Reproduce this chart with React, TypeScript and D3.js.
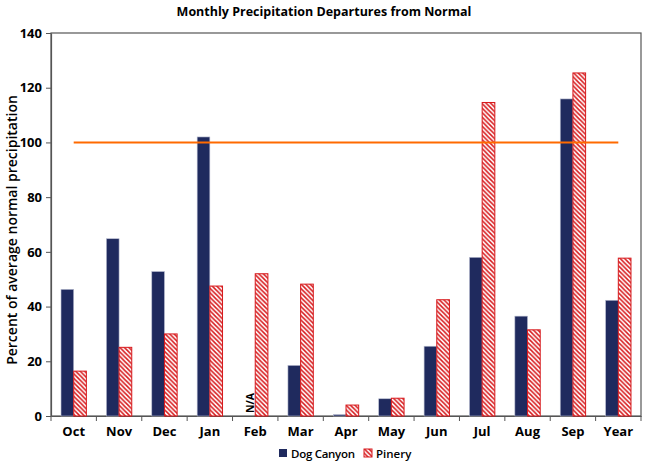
import React, { useEffect, useRef } from 'react';
import * as d3 from 'd3';

const months = ['Oct', 'Nov', 'Dec', 'Jan', 'Feb', 'Mar', 'Apr', 'May', 'Jun', 'Jul', 'Aug', 'Sep', 'Year'];
const dogCanyon: (number | null)[] = [46.3, 64.8, 52.8, 102, null, 18.5, 0.5, 6.3, 25.5, 58, 36.5, 115.9, 42.3];
const pinery = [16.4, 25.1, 30, 47.5, 52, 48.2, 4, 6.5, 42.5, 114.6, 31.5, 125.4, 57.7];
const normalLine = 100;
const yTicks = [0, 20, 40, 60, 80, 100, 120, 140];
const seriesNames = ['Dog Canyon', 'Pinery'];

const App: React.FC = () => {
  const svgRef = useRef<SVGSVGElement>(null);

  useEffect(() => {
    if (!svgRef.current) return;
    const svg = d3.select(svgRef.current);
    svg.selectAll('*').remove();

    const width = 650;
    const height = 462;
    const margin = { top: 33, right: 9, bottom: 46, left: 51 };
    const font = "'Open Sans', sans-serif";
    const navy = '#1f2a5e';
    const red = '#d7191c';

    const defs = svg.append('defs');
    const pat = defs
      .append('pattern')
      .attr('id', 'hatch')
      .attr('patternUnits', 'userSpaceOnUse')
      .attr('width', 4.5)
      .attr('height', 4.5);
    pat.append('rect').attr('width', 4.5).attr('height', 4.5).attr('fill', '#fff');
    pat
      .append('path')
      .attr('d', 'M-1,-1 L5.5,5.5 M-1,3.5 L1,5.5 M3.5,-1 L5.5,1')
      .attr('stroke', red)
      .attr('stroke-width', 1.5);

    const x = d3
      .scaleBand<string>()
      .domain(months)
      .range([margin.left, width - margin.right]);

    const inner = d3
      .scaleBand<string>()
      .domain(['dog', 'pinery'])
      .range([0, x.bandwidth()])
      .paddingInner(0)
      .paddingOuter(0.79);

    const y = d3
      .scaleLinear()
      .domain([0, 140])
      .range([height - margin.bottom, margin.top]);

    // plot frame
    svg
      .append('rect')
      .attr('x', margin.left)
      .attr('y', margin.top)
      .attr('width', width - margin.left - margin.right)
      .attr('height', height - margin.top - margin.bottom)
      .attr('fill', 'none')
      .attr('stroke', '#555')
      .attr('stroke-width', 1.2);

    // y axis
    const yAxis = svg
      .append('g')
      .attr('transform', `translate(${margin.left},0)`)
      .call(d3.axisLeft(y).tickValues(yTicks).tickSize(5).tickSizeOuter(0));
    yAxis.select('.domain').attr('stroke', '#555').attr('stroke-width', 1.2);
    yAxis.selectAll('.tick line').attr('stroke', '#555');
    yAxis
      .selectAll('.tick text')
      .attr('font-family', font)
      .attr('font-weight', 'bold')
      .attr('font-size', 13)
      .attr('fill', '#000')
      .attr('dx', -1);

    // x axis
    const xAxis = svg
      .append('g')
      .attr('transform', `translate(0,${height - margin.bottom})`)
      .call(d3.axisBottom(x).tickSize(0).tickSizeOuter(0));
    xAxis.select('.domain').attr('stroke', '#555').attr('stroke-width', 1.2);
    xAxis
      .selectAll('.tick text')
      .attr('font-family', font)
      .attr('font-weight', 'bold')
      .attr('font-size', 13)
      .attr('fill', '#000')
      .attr('dy', '1.3em');

    svg
      .append('g')
      .selectAll('line')
      .data(months.concat(['end']))
      .enter()
      .append('line')
      .attr('x1', (_d, i) => margin.left + i * x.step())
      .attr('x2', (_d, i) => margin.left + i * x.step())
      .attr('y1', height - margin.bottom)
      .attr('y2', height - margin.bottom + 5)
      .attr('stroke', '#555');

    // bars
    const groups = svg
      .append('g')
      .selectAll('g')
      .data(months)
      .enter()
      .append('g')
      .attr('transform', (d) => `translate(${x(d)},0)`);

    groups
      .filter((_d, i) => dogCanyon[i] !== null)
      .append('rect')
      .attr('x', inner('dog')!)
      .attr('width', inner.bandwidth())
      .attr('y', (d) => y(dogCanyon[months.indexOf(d)] as number))
      .attr('height', (d) => y(0) - y(dogCanyon[months.indexOf(d)] as number))
      .attr('fill', navy)
      .attr('stroke', '#b8bcd0')
      .attr('stroke-width', 0.6);

    groups
      .append('rect')
      .attr('x', inner('pinery')!)
      .attr('width', inner.bandwidth())
      .attr('y', (_d, i) => y(pinery[i]))
      .attr('height', (_d, i) => y(0) - y(pinery[i]))
      .attr('fill', 'url(#hatch)')
      .attr('stroke', red)
      .attr('stroke-width', 1);

    // N/A label
    groups
      .filter((_d, i) => dogCanyon[i] === null)
      .append('text')
      .attr(
        'transform',
        `translate(${inner('dog')! + inner.bandwidth() / 2 + 5},${y(0) - 3}) rotate(-90)`
      )
      .attr('font-family', font)
      .attr('font-weight', 'bold')
      .attr('font-size', 10.5)
      .text('N/A');

    // normal line
    svg
      .append('line')
      .attr('x1', x(months[0])! + x.bandwidth() / 2)
      .attr('x2', x(months[months.length - 1])! + x.bandwidth() / 2)
      .attr('y1', y(normalLine))
      .attr('y2', y(normalLine))
      .attr('stroke', '#ff6a00')
      .attr('stroke-width', 2);

    // title
    svg
      .append('text')
      .attr('x', 324)
      .attr('y', 16)
      .attr('text-anchor', 'middle')
      .attr('font-family', font)
      .attr('font-weight', 'bold')
      .attr('font-size', 12.5)
      .text('Monthly Precipitation Departures from Normal');

    // y label
    svg
      .append('text')
      .attr('transform', `translate(17,230) rotate(-90)`)
      .attr('text-anchor', 'middle')
      .attr('font-family', font)
      .attr('font-weight', 600)
      .attr('font-size', 14)
      .text('Percent of average normal precipitation');

    // legend
    const legend = svg.append('g').attr('transform', 'translate(279,449)');
    legend.append('rect').attr('width', 8).attr('height', 8).attr('fill', navy);
    legend
      .append('text')
      .attr('x', 12)
      .attr('y', 8.5)
      .attr('font-family', font)
      .attr('font-weight', 600)
      .attr('font-size', 11.5)
      .attr('textLength', 64)
      .text(seriesNames[0]);
    legend
      .append('rect')
      .attr('x', 85)
      .attr('width', 8)
      .attr('height', 8)
      .attr('fill', 'url(#hatch)')
      .attr('stroke', red)
      .attr('stroke-width', 1);
    legend
      .append('text')
      .attr('x', 97)
      .attr('y', 8.5)
      .attr('font-family', font)
      .attr('font-weight', 600)
      .attr('font-size', 11.5)
      .text(seriesNames[1]);
  }, []);

  return (
    <div style={{ position: 'absolute', left: 0, top: 0, background: '#fff' }}>
      <svg ref={svgRef} width={650} height={462} style={{ display: 'block' }}></svg>
    </div>
  );
};

export default App;
